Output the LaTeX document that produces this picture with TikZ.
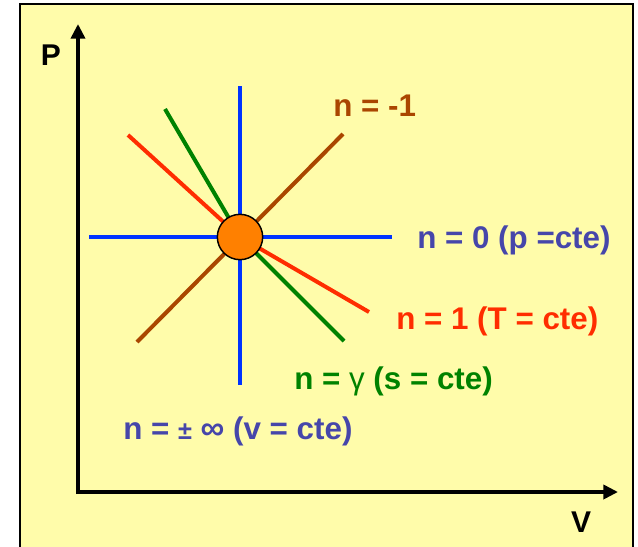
\documentclass[tikz,border=0pt]{standalone}
\usepackage{fontspec}
\setmainfont{Liberation Sans}
\usetikzlibrary{arrows.meta}
\definecolor{bgyellow}{RGB}{255,252,170}
\definecolor{lblue}{RGB}{0,51,255}
\definecolor{lgreen}{RGB}{0,130,0}
\definecolor{lred}{RGB}{255,45,0}
\definecolor{lbrown}{RGB}{170,70,0}
\definecolor{tblue}{RGB}{70,70,170}
\definecolor{dotorange}{RGB}{255,128,0}
\tikzset{
  axis/.style={line width=3pt, -{Triangle[length=11pt,width=10.5pt]}},
  ray/.style={line width=3pt},
  lbl/.style={font=\fontsize{23.5}{28}\selectfont\bfseries, inner sep=0pt, anchor=west},
  axlbl/.style={font=\fontsize{22.5}{26}\selectfont\bfseries, inner sep=0pt},
}
\begin{document}
\begin{tikzpicture}[x=0.75pt,y=-0.75pt]
\useasboundingbox (0,0) rectangle (638,546);
\fill[white] (0,0) rectangle (638,546);
\draw[fill=bgyellow, line width=1.2pt] (20,4) rectangle (633,580);
% axes
\coordinate (O) at (78,492);
\coordinate (Ytip) at (78,24);
\coordinate (Xtip) at (618,492);
\draw[axis] (78,494) -- (Ytip);
\draw[axis] (76,492) -- (Xtip);
\node[axlbl] (P) at (51,55) {P};
\node[axlbl] (V) at (581,522) {V};
% state point
\coordinate (c0) at (240,237);
\coordinate (b1) at (240,86);
\coordinate (b2) at (240,385);
\coordinate (h1) at (89,237);
\coordinate (h2) at (392,237);
\coordinate (g1) at (165,109);
\coordinate (g2) at (344,341);
\coordinate (r1) at (128,135);
\coordinate (r2) at (369,312);
\coordinate (m1) at (343,134);
\coordinate (m2) at (137,342);
\draw[ray, lbrown] (m1) -- (m2);
\draw[ray, lred] (r1) -- (c0) -- (r2);
\draw[ray, lgreen] (g1) -- (c0) -- (g2);
\draw[ray, lblue] (b1) -- (b2);
\draw[ray, lblue] (h1) -- (h2);
\node[circle, draw=black, line width=1.1pt, fill=dotorange, minimum size=34pt, inner sep=0pt] (c) at (c0) {};
% labels
\node[lbl, text=lbrown] (lm) at (333,106) {n = -1};
\node[lbl, text=tblue] (lh) at (417,240) {n = 0 (p =cte)};
\node[lbl, text=lred] (lr) at (396,321) {n = 1 (T = cte)};
\node[lbl, text=lgreen] (lg) at (294,381) {n = {\mdseries γ} (s = cte)};
\node[lbl, text=tblue] (lv) at (123,431) {n = {\fontsize{19}{24}\selectfont ±} {\fontsize{25}{28}\selectfont ∞} (v = cte)};
\end{tikzpicture}
\end{document}
